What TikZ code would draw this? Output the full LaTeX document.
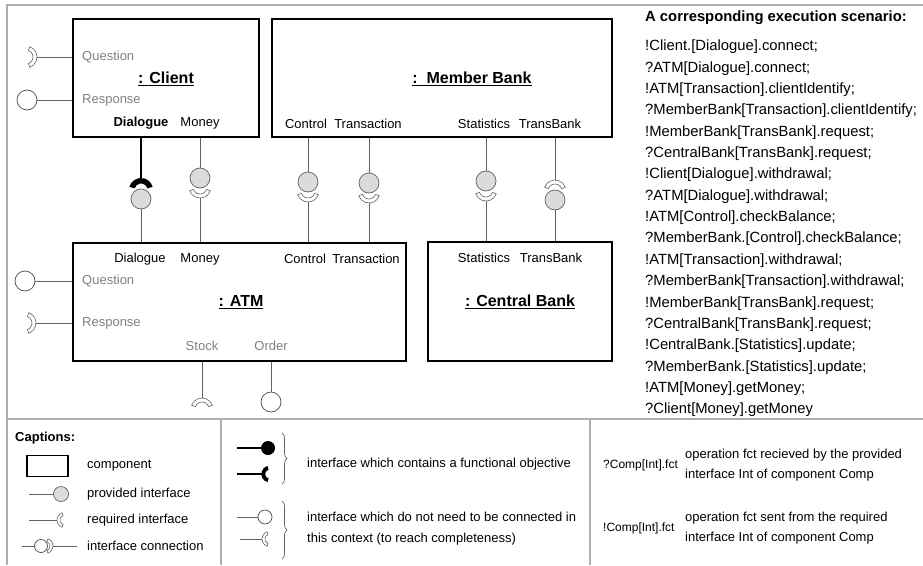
\documentclass[tikz,border=0pt]{standalone}
\usepackage{fontspec}
\setmainfont{Liberation Sans}
\usetikzlibrary{positioning,decorations.pathreplacing}

\definecolor{panelgray}{gray}{0.68}
\definecolor{linegray}{gray}{0.38}
\definecolor{labelgray}{gray}{0.5}
\definecolor{ballgray}{gray}{0.86}

\tikzset{
  socket/.pic={
    \filldraw[fill=white, draw=linegray, line width=0.6pt, shift={(0,-11)}]
      (20:11) arc (20:160:11) -- (160:7) arc (160:20:7) -- cycle;
  },
  blacksocket/.pic={
    \fill[black, shift={(0,-11)}]
      (15:12) arc (15:165:12) -- (165:6.5) arc (165:15:6.5) -- cycle;
  }
}

\begin{document}
\begin{tikzpicture}[x=1pt, y=-1pt,
  comp/.style={draw, line width=1.6pt, inner sep=0pt},
  ball/.style={circle, draw=linegray, fill=ballgray, minimum size=20pt, inner sep=0pt, line width=0.7pt},
  openball/.style={ball, fill=white, draw=black!70},
  conn/.style={draw=linegray, line width=0.8pt},
  lbl/.style={font=\fontsize{13}{15}\selectfont, inner sep=0pt},
  glbl/.style={lbl, text=labelgray, anchor=west},
  cname/.style={font=\fontsize{16}{18}\selectfont\bfseries, inner sep=0pt},
  panel/.style={draw=panelgray, line width=1.5pt},
  scen/.style={font=\fontsize{14.8}{16}\selectfont, anchor=west, inner sep=0pt},
  captxt/.style={font=\fontsize{13}{15}\selectfont, anchor=west, inner sep=0pt}
]
\useasboundingbox (0,0) rectangle (923,565);

% Panels
\draw[panel] (7,565) -- (7,5) -- (923,5);
\draw[panel] (7,419) -- (923,419);
\draw[panel] (221,419) -- (221,565);
\draw[panel] (590,419) -- (590,565);

% Components
\node[comp, minimum width=186pt, minimum height=118pt] (client) at (166,78) {};
\node[comp, minimum width=340pt, minimum height=118pt] (bank) at (442,78) {};
\node[comp, minimum width=333pt, minimum height=118pt] (atm) at (239.5,302) {};
\node[comp, minimum width=184pt, minimum height=119pt] (central) at (520,301.5) {};

% Client labels
\node[glbl] (cl-q) at (82,57) {Question};
\node[cname] (cl-name) at (166,79) {\underline{: Client}};
\node[glbl] (cl-r) at (82,100) {Response};
\node[lbl, font=\fontsize{13}{15}\selectfont\bfseries] (cl-dia) at (141,123) {Dialogue};
\node[lbl] (cl-mon) at (200,123) {Money};

% Member Bank labels
\node[cname] (bk-name) at (472,79) {\underline{:\ \ Member Bank}};
\node[lbl] (bk-ctl) at (306,124) {Control};
\node[lbl] (bk-tra) at (368,124) {Transaction};
\node[lbl] (bk-sta) at (484,124) {Statistics};
\node[lbl] (bk-tb) at (550,124) {TransBank};

% ATM labels
\node[lbl] (at-dia) at (140,259) {Dialogue};
\node[lbl] (at-mon) at (200,259) {Money};
\node[lbl] (at-ctl) at (305,259) {Control};
\node[lbl] (at-tra) at (366,259) {Transaction};
\node[glbl] (at-q) at (82,281) {Question};
\node[cname] (at-name) at (241,302) {\underline{: ATM}};
\node[glbl] (at-r) at (82,323) {Response};
\node[lbl, text=labelgray] (at-sto) at (202,346) {Stock};
\node[lbl, text=labelgray] (at-ord) at (271,346) {Order};

% Central Bank labels
\node[lbl] (cb-sta) at (484,258) {Statistics};
\node[lbl] (cb-tb) at (551,258) {TransBank};
\node[cname] (cb-name) at (520,302) {\underline{: Central Bank}};

% Balls and socket tips
\node[ball] (b-dia) at (141,199) {};
\coordinate (s-dia) at (141,179);
\node[ball] (b-mon) at (200,178) {};
\coordinate (s-mon) at (200,198);
\node[ball] (b-ctl) at (308,182) {};
\coordinate (s-ctl) at (308,202);
\node[ball] (b-tra) at (369,183) {};
\coordinate (s-tra) at (369,203);
\node[ball] (b-sta) at (486,181) {};
\coordinate (s-sta) at (486,201);
\node[ball] (b-tb) at (555,200) {};
\coordinate (s-tb) at (555,180);

% Open interfaces
\coordinate (s-clq) at (37,57);
\node[openball] (b-clr) at (27,100) {};
\node[openball] (b-atq) at (25,281) {};
\coordinate (s-atr) at (36,323);
\coordinate (s-sto) at (202,398);
\node[openball] (b-ord) at (271,402) {};

% Connectors
\draw[line width=2pt] (s-dia) -- (s-dia |- client.south);
\draw[conn] (b-dia) -- (b-dia |- atm.north);
\foreach \k in {mon,ctl,tra} {
  \draw[conn] (b-\k) -- (b-\k |- client.south);
  \draw[conn] (s-\k) -- (s-\k |- atm.north);
}
\draw[conn] (b-sta) -- (b-sta |- bank.south);
\draw[conn] (s-sta) -- (s-sta |- central.north);
\draw[conn] (s-tb) -- (s-tb |- bank.south);
\draw[conn] (b-tb) -- (b-tb |- central.north);
\draw[conn] (s-clq) -- (s-clq -| client.west);
\draw[conn] (b-clr) -- (b-clr -| client.west);
\draw[conn] (b-atq) -- (b-atq -| atm.west);
\draw[conn] (s-atr) -- (s-atr -| atm.west);
\draw[conn] (s-sto) -- (s-sto |- atm.south);
\draw[conn] (b-ord) -- (b-ord |- atm.south);

\pic[rotate=180] at (s-dia) {blacksocket};
\foreach \k in {mon,ctl,tra,sta} \pic at (s-\k) {socket};
\pic[rotate=180] at (s-tb) {socket};
\pic[rotate=90] at (s-clq) {socket};
\pic[rotate=90] at (s-atr) {socket};
\pic[rotate=180] at (s-sto) {socket};

% Scenario
\node[scen, font=\fontsize{14.8}{16}\selectfont\bfseries] (sc-title) at (645,18) {A corresponding execution scenario:};
\foreach \t [count=\i] in {
  {!Client.[Dialogue].connect;},
  {?ATM[Dialogue].connect;},
  {!ATM[Transaction].clientIdentify;},
  {?MemberBank[Transaction].clientIdentify;},
  {!MemberBank[TransBank].request;},
  {?CentralBank[TransBank].request;},
  {!Client[Dialogue].withdrawal;},
  {?ATM[Dialogue].withdrawal;},
  {!ATM[Control].checkBalance;},
  {?MemberBank.[Control].checkBalance;},
  {!ATM[Transaction].withdrawal;},
  {?MemberBank[Transaction].withdrawal;},
  {!MemberBank[TransBank].request;},
  {?CentralBank[TransBank].request;},
  {!CentralBank.[Statistics].update;},
  {?MemberBank.[Statistics].update;},
  {!ATM[Money].getMoney;},
  {?Client[Money].getMoney}}
  \node[scen] (sc\i) at (645,{47+21.35*(\i-1)}) {\t};

% Captions
\node[captxt, font=\fontsize{13}{15}\selectfont\bfseries] (cp-title) at (15,438) {Captions:};
\node[draw, line width=1.4pt, minimum width=41pt, minimum height=21pt, inner sep=0pt] (cp-box) at (47.5,466) {};
\node[captxt] (cp-comp) at (87,466) {component};
\node[ball, minimum size=15pt] (cp-ball) at (61,494) {};
\coordinate (cp-b0) at (29,494);
\node[captxt] (cp-prov) at (87,494) {provided interface};
\coordinate (cp-s1) at (57,520);
\coordinate (cp-s0) at (29,520);
\node[captxt] (cp-req) at (87,520) {required interface};
\coordinate (cp-c0) at (22,546);
\node[openball, minimum size=13pt] (cp-cb) at (41,546) {};
\coordinate (cp-cs) at (53,546);
\coordinate (cp-c1) at (77,546);
\node[captxt] (cp-conn) at (87,546) {interface connection};
\draw[conn] (cp-b0) -- (cp-ball);
\draw[conn] (cp-s0) -- (cp-s1);
\draw[conn] (cp-c0) -- (cp-cb);
\draw[conn] (cp-cs) -- (cp-c1);
\pic[rotate=-90, scale=0.7] at (cp-s1) {socket};
\pic[rotate=90, scale=0.7] at (cp-cs) {socket};

% Functional / open interfaces
\node[circle, fill=black, minimum size=14pt, inner sep=0pt] (fn-ball) at (268,448) {};
\coordinate (fn-b0) at (237,448);
\coordinate (fn-s0) at (237,474);
\coordinate (fn-s1) at (262,474);
\draw[line width=2pt] (fn-b0) -- (fn-ball);
\draw[line width=2pt] (fn-s0) -- (fn-s1);
\pic[rotate=-90, scale=0.7] at (fn-s1) {blacksocket};
\draw[decorate, decoration={brace, amplitude=5pt}, draw=linegray, line width=0.7pt] (282,433) -- (282,484);
\node[captxt] (fn-txt) at (307,464) {interface which contains a functional objective};
\node[openball, minimum size=14pt] (op-ball) at (265,517) {};
\coordinate (op-b0) at (237,517);
\coordinate (op-s0) at (240,539);
\coordinate (op-s1) at (262,539);
\draw[conn] (op-b0) -- (op-ball);
\draw[conn] (op-s0) -- (op-s1);
\pic[rotate=-90, scale=0.7] at (op-s1) {socket};
\draw[decorate, decoration={brace, amplitude=5pt}, draw=linegray, line width=0.7pt] (282,501) -- (282,559);
\node[captxt] (op-txt1) at (307,517) {interface which do not need to be connected in};
\node[captxt] (op-txt2) at (307,539) {this context (to reach completeness)};

% Notation
\node[captxt, font=\fontsize{12}{14}\selectfont] (nt-rcv) at (603,465) {?Comp[Int].fct};
\node[captxt] (nt-rcv1) at (685,455) {operation fct recieved by the provided};
\node[captxt] (nt-rcv2) at (685,475) {interface Int of component Comp};
\node[captxt, font=\fontsize{12}{14}\selectfont] (nt-snd) at (603,528) {!Comp[Int].fct};
\node[captxt] (nt-snd1) at (685,518) {operation fct sent from the required};
\node[captxt] (nt-snd2) at (685,538) {interface Int of component Comp};
\end{tikzpicture}
\end{document}
